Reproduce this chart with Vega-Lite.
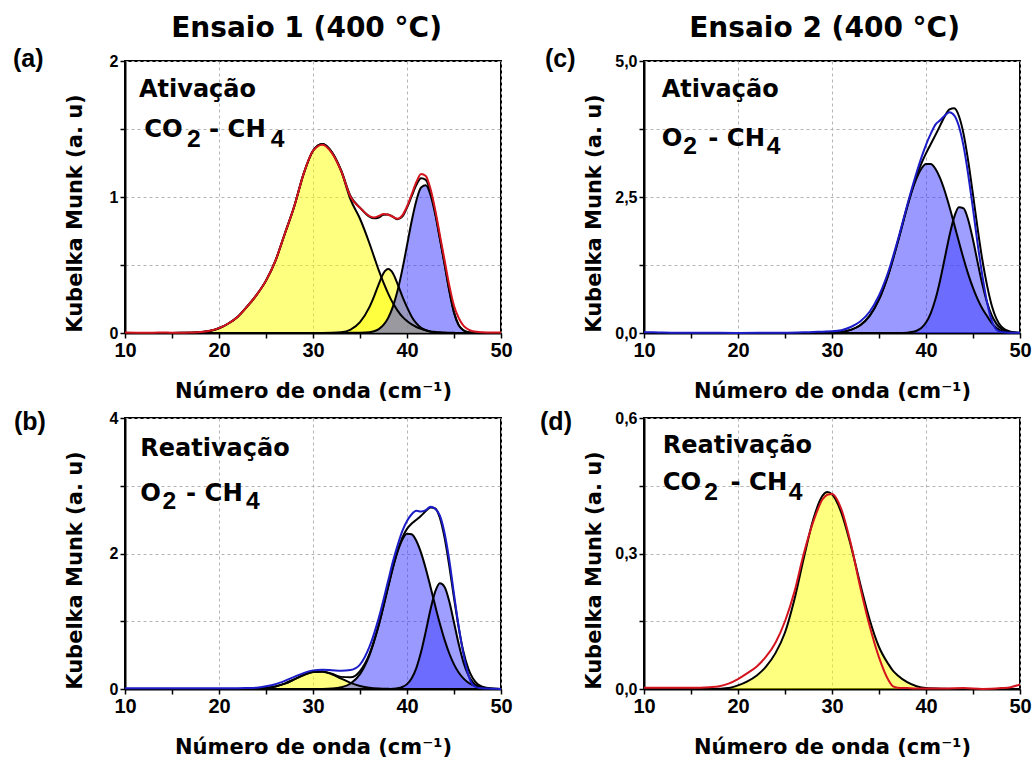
{
"$schema": "https://vega.github.io/schema/vega-lite/v6.json",
"background": "white",
"padding": {"left": 11, "top": 14, "right": 4, "bottom": 5},
"autosize": {"type": "pad"},
"config": {
 "font": "DejaVu Sans",
 "view": {"stroke": "#000000", "strokeWidth": 2},
 "axis": {"domainColor": "#000000", "domainWidth": 2, "tickColor": "#000000", "tickWidth": 1.5, "tickSize": 5, "grid": true, "gridColor": "#b4b4b4", "gridDash": [3, 3], "gridWidth": 1, "labelFont": "Liberation Sans", "labelFontWeight": "bold", "labelColor": "#000000", "titleFont": "DejaVu Sans", "titleFontWeight": "bold", "titleFontSize": 21, "titleColor": "#000000", "labelFlush": false, "labelOverlap": false},
 "axisX": {"labelFontSize": 20, "labelPadding": 2, "titleBaseline": "alphabetic", "titleY": 64},
 "axisY": {"labelFontSize": 16, "labelPadding": 2, "titleX": -44, "titleY": 152, "titleBaseline": "alphabetic"}
},
"datasets": {
 "a": [
  {"x":10,"y1":0,"y2":0,"b":0,"fit":0,"red":0.003},
  {"x":12,"y1":0,"y2":0,"b":0,"fit":0,"red":0.002},
  {"x":14,"y1":0.0005,"y2":0,"b":0,"fit":0.0005,"red":0.003},
  {"x":16,"y1":0.001,"y2":0,"b":0,"fit":0.001,"red":0.002},
  {"x":17,"y1":0.002,"y2":0,"b":0,"fit":0.002,"red":0.004},
  {"x":18,"y1":0.006,"y2":0,"b":0,"fit":0.006,"red":0.007},
  {"x":19,"y1":0.015,"y2":0,"b":0,"fit":0.015,"red":0.016},
  {"x":20,"y1":0.035,"y2":0,"b":0,"fit":0.035,"red":0.036},
  {"x":21,"y1":0.07,"y2":0,"b":0,"fit":0.07,"red":0.07},
  {"x":22,"y1":0.12,"y2":0,"b":0,"fit":0.12,"red":0.12},
  {"x":23,"y1":0.195,"y2":0,"b":0,"fit":0.195,"red":0.195},
  {"x":24,"y1":0.28,"y2":0,"b":0,"fit":0.28,"red":0.28},
  {"x":25,"y1":0.385,"y2":0,"b":0,"fit":0.385,"red":0.385},
  {"x":26,"y1":0.53,"y2":0,"b":0,"fit":0.53,"red":0.53},
  {"x":27,"y1":0.73,"y2":0,"b":0,"fit":0.73,"red":0.73},
  {"x":28,"y1":0.93,"y2":0,"b":0,"fit":0.93,"red":0.93},
  {"x":29,"y1":1.17,"y2":0,"b":0,"fit":1.17,"red":1.17},
  {"x":30,"y1":1.34,"y2":0,"b":0,"fit":1.34,"red":1.34},
  {"x":31,"y1":1.39,"y2":0,"b":0,"fit":1.39,"red":1.385},
  {"x":32,"y1":1.33,"y2":0.001,"b":0,"fit":1.331,"red":1.325},
  {"x":33,"y1":1.19,"y2":0.005,"b":0,"fit":1.195,"red":1.19},
  {"x":34,"y1":0.98,"y2":0.025,"b":0.001,"fit":1.006,"red":1.0},
  {"x":35,"y1":0.84,"y2":0.08,"b":0.002,"fit":0.922,"red":0.92},
  {"x":36,"y1":0.66,"y2":0.19,"b":0.006,"fit":0.856,"red":0.86},
  {"x":36.5,"y1":0.56,"y2":0.27,"b":0.013,"fit":0.843,"red":0.85},
  {"x":37,"y1":0.46,"y2":0.36,"b":0.029,"fit":0.849,"red":0.86},
  {"x":37.5,"y1":0.37,"y2":0.44,"b":0.059,"fit":0.869,"red":0.875},
  {"x":38,"y1":0.29,"y2":0.47,"b":0.111,"fit":0.871,"red":0.87},
  {"x":38.5,"y1":0.22,"y2":0.44,"b":0.194,"fit":0.854,"red":0.855},
  {"x":39,"y1":0.165,"y2":0.36,"b":0.312,"fit":0.837,"red":0.84},
  {"x":39.5,"y1":0.12,"y2":0.27,"b":0.466,"fit":0.856,"red":0.865},
  {"x":40,"y1":0.088,"y2":0.19,"b":0.644,"fit":0.922,"red":0.93},
  {"x":40.5,"y1":0.063,"y2":0.12,"b":0.824,"fit":1.007,"red":1.02},
  {"x":41,"y1":0.044,"y2":0.07,"b":0.975,"fit":1.089,"red":1.11},
  {"x":41.5,"y1":0.03,"y2":0.038,"b":1.07,"fit":1.138,"red":1.17},
  {"x":42,"y1":0.02,"y2":0.02,"b":1.086,"fit":1.126,"red":1.155},
  {"x":42.5,"y1":0.012,"y2":0.009,"b":1.016,"fit":1.037,"red":1.06},
  {"x":43,"y1":0.008,"y2":0.004,"b":0.875,"fit":0.887,"red":0.905},
  {"x":43.5,"y1":0.005,"y2":0.001,"b":0.692,"fit":0.698,"red":0.72},
  {"x":44,"y1":0.003,"y2":0,"b":0.505,"fit":0.508,"red":0.535},
  {"x":44.5,"y1":0.002,"y2":0,"b":0.311,"fit":0.313,"red":0.35},
  {"x":45,"y1":0.001,"y2":0,"b":0.15,"fit":0.151,"red":0.2},
  {"x":45.5,"y1":0,"y2":0,"b":0.058,"fit":0.058,"red":0.11},
  {"x":46,"y1":0,"y2":0,"b":0.02,"fit":0.02,"red":0.055},
  {"x":46.5,"y1":0,"y2":0,"b":0.006,"fit":0.006,"red":0.027},
  {"x":47,"y1":0,"y2":0,"b":0.002,"fit":0.002,"red":0.013},
  {"x":48,"y1":0,"y2":0,"b":0,"fit":0,"red":0.006},
  {"x":49,"y1":0,"y2":0,"b":0,"fit":0,"red":0.004},
  {"x":50,"y1":0,"y2":0,"b":0,"fit":0,"red":0.004}
 ],
 "c": [
  {"x":10,"p1":0,"p2":0,"fit":0,"blu":0.012},
  {"x":11,"p1":0,"p2":0,"fit":0,"blu":0.015},
  {"x":12,"p1":0,"p2":0,"fit":0,"blu":0.008},
  {"x":14,"p1":0,"p2":0,"fit":0,"blu":0.004},
  {"x":16,"p1":0,"p2":0,"fit":0,"blu":0.003},
  {"x":20,"p1":0,"p2":0,"fit":0,"blu":0.002},
  {"x":25,"p1":0,"p2":0,"fit":0,"blu":0.004},
  {"x":28,"p1":0.0005,"p2":0,"fit":0.0005,"blu":0.02},
  {"x":29,"p1":0.002,"p2":0,"fit":0.002,"blu":0.025},
  {"x":30,"p1":0.0065,"p2":0,"fit":0.0065,"blu":0.03},
  {"x":31,"p1":0.02,"p2":0,"fit":0.02,"blu":0.05},
  {"x":32,"p1":0.057,"p2":0,"fit":0.057,"blu":0.11},
  {"x":33,"p1":0.142,"p2":0,"fit":0.142,"blu":0.21},
  {"x":34,"p1":0.314,"p2":0,"fit":0.314,"blu":0.39},
  {"x":35,"p1":0.617,"p2":0,"fit":0.617,"blu":0.69},
  {"x":36,"p1":1.078,"p2":0,"fit":1.078,"blu":1.13},
  {"x":37,"p1":1.676,"p2":0,"fit":1.676,"blu":1.71},
  {"x":38,"p1":2.317,"p2":0.006,"fit":2.323,"blu":2.35},
  {"x":38.5,"p1":2.606,"p2":0.017,"fit":2.623,"blu":2.66},
  {"x":39,"p1":2.846,"p2":0.042,"fit":2.888,"blu":2.95},
  {"x":39.5,"p1":3.019,"p2":0.094,"fit":3.113,"blu":3.22},
  {"x":40,"p1":3.108,"p2":0.193,"fit":3.301,"blu":3.46},
  {"x":40.5,"p1":3.108,"p2":0.362,"fit":3.47,"blu":3.66},
  {"x":41,"p1":3.019,"p2":0.619,"fit":3.638,"blu":3.83},
  {"x":41.5,"p1":2.846,"p2":0.966,"fit":3.812,"blu":3.91},
  {"x":42,"p1":2.606,"p2":1.378,"fit":3.984,"blu":4.0},
  {"x":42.5,"p1":2.317,"p2":1.793,"fit":4.11,"blu":4.06},
  {"x":43,"p1":1.999,"p2":2.131,"fit":4.13,"blu":4.0},
  {"x":43.5,"p1":1.676,"p2":2.313,"fit":3.989,"blu":3.8},
  {"x":44,"p1":1.364,"p2":2.292,"fit":3.656,"blu":3.43},
  {"x":44.5,"p1":1.078,"p2":2.074,"fit":3.152,"blu":2.9},
  {"x":45,"p1":0.828,"p2":1.714,"fit":2.542,"blu":2.28},
  {"x":45.5,"p1":0.617,"p2":1.293,"fit":1.91,"blu":1.63},
  {"x":46,"p1":0.446,"p2":0.891,"fit":1.337,"blu":1.05},
  {"x":46.5,"p1":0.31,"p2":0.56,"fit":0.87,"blu":0.56},
  {"x":47,"p1":0.18,"p2":0.322,"fit":0.502,"blu":0.22},
  {"x":47.5,"p1":0.09,"p2":0.169,"fit":0.259,"blu":0.06},
  {"x":48,"p1":0.04,"p2":0.081,"fit":0.121,"blu":0.02},
  {"x":49,"p1":0.01,"p2":0.014,"fit":0.024,"blu":0.005},
  {"x":50,"p1":0,"p2":0.001,"fit":0.001,"blu":0.003}
 ],
 "b": [
  {"x":10,"q3":0,"q1":0,"q2":0,"fit":0,"blu":0.01},
  {"x":12,"q3":0,"q1":0,"q2":0,"fit":0,"blu":0.01},
  {"x":14,"q3":0,"q1":0,"q2":0,"fit":0,"blu":0.01},
  {"x":16,"q3":0,"q1":0,"q2":0,"fit":0,"blu":0.01},
  {"x":18,"q3":0,"q1":0,"q2":0,"fit":0,"blu":0.01},
  {"x":20,"q3":0,"q1":0,"q2":0,"fit":0,"blu":0.01},
  {"x":22,"q3":0.0003,"q1":0,"q2":0,"fit":0.0003,"blu":0.012},
  {"x":23,"q3":0.0014,"q1":0,"q2":0,"fit":0.0014,"blu":0.015},
  {"x":24,"q3":0.005,"q1":0,"q2":0,"fit":0.005,"blu":0.02},
  {"x":25,"q3":0.015,"q1":0,"q2":0,"fit":0.015,"blu":0.04},
  {"x":26,"q3":0.038,"q1":0,"q2":0,"fit":0.038,"blu":0.07},
  {"x":27,"q3":0.08,"q1":0,"q2":0,"fit":0.08,"blu":0.12},
  {"x":28,"q3":0.141,"q1":0,"q2":0,"fit":0.141,"blu":0.18},
  {"x":29,"q3":0.206,"q1":0,"q2":0,"fit":0.206,"blu":0.235},
  {"x":30,"q3":0.252,"q1":0.0003,"q2":0,"fit":0.252,"blu":0.275},
  {"x":31,"q3":0.256,"q1":0.0015,"q2":0,"fit":0.258,"blu":0.285},
  {"x":32,"q3":0.218,"q1":0.0066,"q2":0,"fit":0.225,"blu":0.278},
  {"x":33,"q3":0.154,"q1":0.025,"q2":0,"fit":0.179,"blu":0.268},
  {"x":34,"q3":0.091,"q1":0.081,"q2":0,"fit":0.172,"blu":0.28},
  {"x":35,"q3":0.045,"q1":0.219,"q2":0,"fit":0.264,"blu":0.36},
  {"x":36,"q3":0.018,"q1":0.496,"q2":0,"fit":0.514,"blu":0.62},
  {"x":37,"q3":0.006,"q1":0.944,"q2":0,"fit":0.95,"blu":1.05},
  {"x":38,"q3":0.002,"q1":1.51,"q2":0,"fit":1.512,"blu":1.6},
  {"x":38.5,"q3":0.001,"q1":1.789,"q2":0.003,"fit":1.793,"blu":1.88},
  {"x":39,"q3":0,"q1":2.029,"q2":0.01,"fit":2.039,"blu":2.12},
  {"x":39.5,"q3":0,"q1":2.204,"q2":0.029,"fit":2.233,"blu":2.33},
  {"x":40,"q3":0,"q1":2.292,"q2":0.072,"fit":2.364,"blu":2.48},
  {"x":40.5,"q3":0,"q1":2.283,"q2":0.159,"fit":2.442,"blu":2.58},
  {"x":41,"q3":0,"q1":2.185,"q2":0.313,"fit":2.498,"blu":2.63},
  {"x":41.5,"q3":0,"q1":2.009,"q2":0.548,"fit":2.557,"blu":2.62},
  {"x":42,"q3":0,"q1":1.775,"q2":0.851,"fit":2.626,"blu":2.64},
  {"x":42.5,"q3":0,"q1":1.506,"q2":1.173,"fit":2.679,"blu":2.69},
  {"x":43,"q3":0,"q1":1.228,"q2":1.436,"fit":2.664,"blu":2.66},
  {"x":43.5,"q3":0,"q1":0.963,"q2":1.561,"fit":2.524,"blu":2.56},
  {"x":44,"q3":0,"q1":0.725,"q2":1.506,"fit":2.231,"blu":2.3},
  {"x":44.5,"q3":0,"q1":0.524,"q2":1.291,"fit":1.815,"blu":1.9},
  {"x":45,"q3":0,"q1":0.364,"q2":0.981,"fit":1.345,"blu":1.4},
  {"x":45.5,"q3":0,"q1":0.243,"q2":0.663,"fit":0.906,"blu":0.92},
  {"x":46,"q3":0,"q1":0.156,"q2":0.397,"fit":0.553,"blu":0.52},
  {"x":46.5,"q3":0,"q1":0.096,"q2":0.212,"fit":0.308,"blu":0.22},
  {"x":47,"q3":0,"q1":0.057,"q2":0.1,"fit":0.157,"blu":0.06},
  {"x":47.5,"q3":0,"q1":0.032,"q2":0.042,"fit":0.074,"blu":0.02},
  {"x":48,"q3":0,"q1":0.018,"q2":0.016,"fit":0.034,"blu":0.01},
  {"x":49,"q3":0,"q1":0.005,"q2":0.002,"fit":0.007,"blu":0.005},
  {"x":50,"q3":0,"q1":0.001,"q2":0,"fit":0.001,"blu":0}
 ],
 "d": [
  {"x":10,"yel":0,"red":0.003},
  {"x":12,"yel":0,"red":0.003},
  {"x":14,"yel":0,"red":0.003},
  {"x":16,"yel":0,"red":0.003},
  {"x":17,"yel":0,"red":0.004},
  {"x":18,"yel":0.0005,"red":0.006},
  {"x":19,"yel":0.002,"red":0.012},
  {"x":20,"yel":0.008,"red":0.022},
  {"x":21,"yel":0.017,"red":0.035},
  {"x":22,"yel":0.03,"red":0.05},
  {"x":23,"yel":0.05,"red":0.072},
  {"x":24,"yel":0.08,"red":0.103},
  {"x":25,"yel":0.125,"red":0.15},
  {"x":26,"yel":0.198,"red":0.215},
  {"x":27,"yel":0.29,"red":0.3},
  {"x":28,"yel":0.375,"red":0.37},
  {"x":29,"yel":0.428,"red":0.42},
  {"x":29.5,"yel":0.436,"red":0.43},
  {"x":30,"yel":0.431,"red":0.432},
  {"x":31,"yel":0.39,"red":0.398},
  {"x":32,"yel":0.318,"red":0.322},
  {"x":33,"yel":0.233,"red":0.226},
  {"x":34,"yel":0.154,"red":0.14},
  {"x":35,"yel":0.093,"red":0.07},
  {"x":36,"yel":0.055,"red":0.02},
  {"x":36.5,"yel":0.04,"red":0.006},
  {"x":37,"yel":0.03,"red":0.003},
  {"x":38,"yel":0.015,"red":0.002},
  {"x":39,"yel":0.006,"red":0.001},
  {"x":40,"yel":0.002,"red":0.001},
  {"x":42,"yel":0.0005,"red":0.001},
  {"x":44,"yel":0,"red":0.002},
  {"x":46,"yel":0,"red":0.0},
  {"x":48,"yel":0,"red":0.002},
  {"x":49,"yel":0,"red":0.004},
  {"x":50,"yel":0,"red":0.01}
 ],
 "ta": [
  {"x":-1.915,"y":1.956,"t":"(a)","k":"p"},
  {"x":11.49,"y":1.737,"t":"Ativação","k":"h"},
  {"x":12.05,"y":1.441,"t":"CO","k":"m"},
  {"x":18.94,"y":1.441,"t":"- CH","k":"m"},
  {"x":16.6,"y":1.368,"t":"2","k":"s"},
  {"x":25.5,"y":1.368,"t":"4","k":"s"}
 ],
 "tc": [
  {"x":-0.53,"y":4.895,"t":"(c)","k":"p"},
  {"x":11.88,"y":4.344,"t":"Ativação","k":"h"},
  {"x":11.88,"y":3.438,"t":"O","k":"m"},
  {"x":16.84,"y":3.438,"t":"- CH","k":"m"},
  {"x":14.18,"y":3.29,"t":"2","k":"s"},
  {"x":23.05,"y":3.29,"t":"4","k":"s"}
 ],
 "tb": [
  {"x":-1.81,"y":3.823,"t":"(b)","k":"p"},
  {"x":11.63,"y":3.435,"t":"Reativação","k":"h"},
  {"x":11.63,"y":2.77,"t":"O","k":"m"},
  {"x":16.49,"y":2.77,"t":"- CH","k":"m"},
  {"x":14.0,"y":2.657,"t":"2","k":"s"},
  {"x":22.87,"y":2.657,"t":"4","k":"s"}
 ],
 "td": [
  {"x":-1.06,"y":0.574,"t":"(d)","k":"p"},
  {"x":11.99,"y":0.5225,"t":"Reativação","k":"h"},
  {"x":11.99,"y":0.4413,"t":"CO","k":"m"},
  {"x":19.2,"y":0.4413,"t":"- CH","k":"m"},
  {"x":16.4,"y":0.419,"t":"2","k":"s"},
  {"x":25.4,"y":0.419,"t":"4","k":"s"}
 ]
},
"spacing": 25,
"hconcat": [
 {
  "title": {"text": "Ensaio 1 (400 °C)", "font": "DejaVu Sans", "fontSize": 28, "fontWeight": "bold", "anchor": "middle", "baseline": "alphabetic", "offset": -19, "dx": 44, "color": "#000000"},
  "spacing": 6,
  "vconcat": [
   {
    "width": 376, "height": 272,
    "data": {"name": "a"},
    "encoding": {"x": {"field": "x", "type": "quantitative", "scale": {"domain": [10, 50], "nice": false, "zero": false}, "axis": {"values": [10,15,20,25,30,35,40,45,50], "labelExpr": "datum.value % 10 === 0 ? datum.label : ''", "gridOpacity": {"condition": {"test": "datum.value % 10 === 0", "value": 1}, "value": 0}}, "title": "Número de onda (cm⁻¹)"}},
    "layer": [
     {"transform": [{"fold": ["y1", "y2", "b"], "as": ["k", "v"]}],
      "mark": {"type": "area", "interpolate": "monotone"},
      "encoding": {"y": {"field": "v", "type": "quantitative", "stack": null, "scale": {"domain": [0, 2], "nice": false}, "title": "Kubelka Munk (a. u)", "axis": {"values": [0, 0.5, 1, 1.5, 2], "labelExpr": "datum.value % 1 === 0 ? format(datum.value, 'd') : ''"}},
       "fill": {"field": "k", "type": "nominal", "scale": {"domain": ["y1","y2","b","q3","q1","q2","p1","p2","yel"], "range": ["#ffff00","#ffff00","#3333ff","#ffff00","#3333ff","#4040ff","#3333ff","#4040ff","#ffff00"]}, "legend": null},
       "fillOpacity": {"field": "k", "type": "nominal", "scale": {"domain": ["y1","y2","b","q3","q1","q2","p1","p2","yel"], "range": [0.5,0.5,0.5,0.5,0.5,0.85,0.5,0.85,0.5]}, "legend": null}}},
     {"transform": [{"fold": ["y1", "y2", "b", "fit", "red"], "as": ["k", "v"]}],
      "mark": {"type": "line", "interpolate": "monotone", "strokeWidth": 2},
      "encoding": {"y": {"field": "v", "type": "quantitative", "scale": {"domain": [0, 2], "nice": false}, "title": "Kubelka Munk (a. u)"},
       "stroke": {"field": "k", "type": "nominal", "scale": {"domain": ["y1","y2","b","q3","q1","q2","p1","p2","yel","fit","red","blu"], "range": ["#000000","#000000","#000000","#000000","#000000","#000000","#000000","#000000","#000000","#000000","#d4141e","#1c1cc8"]}, "legend": null}}},
     {"data": {"name": "ta"}, "transform": [{"filter": "datum.k === 'h' || datum.k === 'm'"}],
      "mark": {"type": "text", "font": "DejaVu Sans", "fontWeight": "bold", "align": "left", "baseline": "alphabetic", "color": "#000000"},
      "encoding": {"y": {"field": "y", "type": "quantitative", "scale": {"domain": [0, 2], "nice": false}, "title": "Kubelka Munk (a. u)"}, "text": {"field": "t"},
       "size": {"field": "k", "type": "nominal", "scale": {"domain": ["h", "m", "s", "p"], "range": [24, 25, 22, 32]}, "legend": null}}},
     {"data": {"name": "ta"}, "transform": [{"filter": "datum.k === 's' || datum.k === 'p'"}],
      "mark": {"type": "text", "font": "Liberation Sans", "fontWeight": "bold", "align": "left", "baseline": "alphabetic", "color": "#000000"},
      "encoding": {"y": {"field": "y", "type": "quantitative", "scale": {"domain": [0, 2], "nice": false}, "title": "Kubelka Munk (a. u)"}, "text": {"field": "t"},
       "size": {"field": "k", "type": "nominal", "scale": {"domain": ["h", "m", "s", "p"], "range": [24, 25, 22, 32]}, "legend": null}}}
    ]
   },
   {
    "width": 376, "height": 271,
    "data": {"name": "b"},
    "encoding": {"x": {"field": "x", "type": "quantitative", "scale": {"domain": [10, 50], "nice": false, "zero": false}, "axis": {"values": [10,15,20,25,30,35,40,45,50], "labelExpr": "datum.value % 10 === 0 ? datum.label : ''", "gridOpacity": {"condition": {"test": "datum.value % 10 === 0", "value": 1}, "value": 0}}, "title": "Número de onda (cm⁻¹)"}},
    "layer": [
     {"transform": [{"fold": ["q3", "q1", "q2"], "as": ["k", "v"]}],
      "mark": {"type": "area", "interpolate": "monotone"},
      "encoding": {"y": {"field": "v", "type": "quantitative", "stack": null, "scale": {"domain": [0, 4], "nice": false}, "title": "Kubelka Munk (a. u)", "axis": {"values": [0, 1, 2, 3, 4], "labelExpr": "datum.value % 2 === 0 ? format(datum.value, 'd') : ''"}},
       "fill": {"field": "k", "type": "nominal", "scale": {"domain": ["y1","y2","b","q3","q1","q2","p1","p2","yel"], "range": ["#ffff00","#ffff00","#3333ff","#ffff00","#3333ff","#4040ff","#3333ff","#4040ff","#ffff00"]}, "legend": null},
       "fillOpacity": {"field": "k", "type": "nominal", "scale": {"domain": ["y1","y2","b","q3","q1","q2","p1","p2","yel"], "range": [0.5,0.5,0.5,0.5,0.5,0.85,0.5,0.85,0.5]}, "legend": null}}},
     {"transform": [{"fold": ["q3", "q1", "q2", "fit", "blu"], "as": ["k", "v"]}],
      "mark": {"type": "line", "interpolate": "monotone", "strokeWidth": 2},
      "encoding": {"y": {"field": "v", "type": "quantitative", "scale": {"domain": [0, 4], "nice": false}, "title": "Kubelka Munk (a. u)"},
       "stroke": {"field": "k", "type": "nominal", "scale": {"domain": ["y1","y2","b","q3","q1","q2","p1","p2","yel","fit","red","blu"], "range": ["#000000","#000000","#000000","#000000","#000000","#000000","#000000","#000000","#000000","#000000","#d4141e","#1c1cc8"]}, "legend": null}}},
     {"data": {"name": "tb"}, "transform": [{"filter": "datum.k === 'h' || datum.k === 'm'"}],
      "mark": {"type": "text", "font": "DejaVu Sans", "fontWeight": "bold", "align": "left", "baseline": "alphabetic", "color": "#000000"},
      "encoding": {"y": {"field": "y", "type": "quantitative", "scale": {"domain": [0, 4], "nice": false}, "title": "Kubelka Munk (a. u)"}, "text": {"field": "t"},
       "size": {"field": "k", "type": "nominal", "scale": {"domain": ["h", "m", "s", "p"], "range": [24, 25, 22, 32]}, "legend": null}}},
     {"data": {"name": "tb"}, "transform": [{"filter": "datum.k === 's' || datum.k === 'p'"}],
      "mark": {"type": "text", "font": "Liberation Sans", "fontWeight": "bold", "align": "left", "baseline": "alphabetic", "color": "#000000"},
      "encoding": {"y": {"field": "y", "type": "quantitative", "scale": {"domain": [0, 4], "nice": false}, "title": "Kubelka Munk (a. u)"}, "text": {"field": "t"},
       "size": {"field": "k", "type": "nominal", "scale": {"domain": ["h", "m", "s", "p"], "range": [24, 25, 22, 32]}, "legend": null}}}
    ]
   }
  ]
 },
 {
  "title": {"text": "Ensaio 2 (400 °C)", "font": "DejaVu Sans", "fontSize": 28, "fontWeight": "bold", "anchor": "middle", "baseline": "alphabetic", "offset": -19, "dx": 39, "color": "#000000"},
  "spacing": 6,
  "vconcat": [
   {
    "width": 376, "height": 272,
    "data": {"name": "c"},
    "encoding": {"x": {"field": "x", "type": "quantitative", "scale": {"domain": [10, 50], "nice": false, "zero": false}, "axis": {"values": [10,15,20,25,30,35,40,45,50], "labelExpr": "datum.value % 10 === 0 ? datum.label : ''", "gridOpacity": {"condition": {"test": "datum.value % 10 === 0", "value": 1}, "value": 0}}, "title": "Número de onda (cm⁻¹)"}},
    "layer": [
     {"transform": [{"fold": ["p1", "p2"], "as": ["k", "v"]}],
      "mark": {"type": "area", "interpolate": "monotone"},
      "encoding": {"y": {"field": "v", "type": "quantitative", "stack": null, "scale": {"domain": [0, 5], "nice": false}, "title": "Kubelka Munk (a. u)", "axis": {"values": [0, 1.25, 2.5, 3.75, 5], "labelExpr": "datum.value % 2.5 === 0 ? replace(format(datum.value, '.1f'), '.', ',') : ''"}},
       "fill": {"field": "k", "type": "nominal", "scale": {"domain": ["y1","y2","b","q3","q1","q2","p1","p2","yel"], "range": ["#ffff00","#ffff00","#3333ff","#ffff00","#3333ff","#4040ff","#3333ff","#4040ff","#ffff00"]}, "legend": null},
       "fillOpacity": {"field": "k", "type": "nominal", "scale": {"domain": ["y1","y2","b","q3","q1","q2","p1","p2","yel"], "range": [0.5,0.5,0.5,0.5,0.5,0.85,0.5,0.85,0.5]}, "legend": null}}},
     {"transform": [{"fold": ["p1", "p2", "fit", "blu"], "as": ["k", "v"]}],
      "mark": {"type": "line", "interpolate": "monotone", "strokeWidth": 2},
      "encoding": {"y": {"field": "v", "type": "quantitative", "scale": {"domain": [0, 5], "nice": false}, "title": "Kubelka Munk (a. u)"},
       "stroke": {"field": "k", "type": "nominal", "scale": {"domain": ["y1","y2","b","q3","q1","q2","p1","p2","yel","fit","red","blu"], "range": ["#000000","#000000","#000000","#000000","#000000","#000000","#000000","#000000","#000000","#000000","#d4141e","#1c1cc8"]}, "legend": null}}},
     {"data": {"name": "tc"}, "transform": [{"filter": "datum.k === 'h' || datum.k === 'm'"}],
      "mark": {"type": "text", "font": "DejaVu Sans", "fontWeight": "bold", "align": "left", "baseline": "alphabetic", "color": "#000000"},
      "encoding": {"y": {"field": "y", "type": "quantitative", "scale": {"domain": [0, 5], "nice": false}, "title": "Kubelka Munk (a. u)"}, "text": {"field": "t"},
       "size": {"field": "k", "type": "nominal", "scale": {"domain": ["h", "m", "s", "p"], "range": [24, 25, 22, 32]}, "legend": null}}},
     {"data": {"name": "tc"}, "transform": [{"filter": "datum.k === 's' || datum.k === 'p'"}],
      "mark": {"type": "text", "font": "Liberation Sans", "fontWeight": "bold", "align": "left", "baseline": "alphabetic", "color": "#000000"},
      "encoding": {"y": {"field": "y", "type": "quantitative", "scale": {"domain": [0, 5], "nice": false}, "title": "Kubelka Munk (a. u)"}, "text": {"field": "t"},
       "size": {"field": "k", "type": "nominal", "scale": {"domain": ["h", "m", "s", "p"], "range": [24, 25, 22, 32]}, "legend": null}}}
    ]
   },
   {
    "width": 376, "height": 271,
    "data": {"name": "d"},
    "encoding": {"x": {"field": "x", "type": "quantitative", "scale": {"domain": [10, 50], "nice": false, "zero": false}, "axis": {"values": [10,15,20,25,30,35,40,45,50], "labelExpr": "datum.value % 10 === 0 ? datum.label : ''", "gridOpacity": {"condition": {"test": "datum.value % 10 === 0", "value": 1}, "value": 0}}, "title": "Número de onda (cm⁻¹)"}},
    "layer": [
     {"transform": [{"fold": ["yel"], "as": ["k", "v"]}],
      "mark": {"type": "area", "interpolate": "monotone"},
      "encoding": {"y": {"field": "v", "type": "quantitative", "stack": null, "scale": {"domain": [0, 0.6], "nice": false}, "title": "Kubelka Munk (a. u)", "axis": {"values": [0, 0.15, 0.3, 0.45, 0.6], "labelExpr": "datum.value === 0 || datum.value === 0.3 || datum.value === 0.6 ? replace(format(datum.value, '.1f'), '.', ',') : ''"}},
       "fill": {"field": "k", "type": "nominal", "scale": {"domain": ["y1","y2","b","q3","q1","q2","p1","p2","yel"], "range": ["#ffff00","#ffff00","#3333ff","#ffff00","#3333ff","#4040ff","#3333ff","#4040ff","#ffff00"]}, "legend": null},
       "fillOpacity": {"field": "k", "type": "nominal", "scale": {"domain": ["y1","y2","b","q3","q1","q2","p1","p2","yel"], "range": [0.5,0.5,0.5,0.5,0.5,0.85,0.5,0.85,0.5]}, "legend": null}}},
     {"transform": [{"fold": ["yel", "red"], "as": ["k", "v"]}],
      "mark": {"type": "line", "interpolate": "monotone", "strokeWidth": 2},
      "encoding": {"y": {"field": "v", "type": "quantitative", "scale": {"domain": [0, 0.6], "nice": false}, "title": "Kubelka Munk (a. u)"},
       "stroke": {"field": "k", "type": "nominal", "scale": {"domain": ["y1","y2","b","q3","q1","q2","p1","p2","yel","fit","red","blu"], "range": ["#000000","#000000","#000000","#000000","#000000","#000000","#000000","#000000","#000000","#000000","#d4141e","#1c1cc8"]}, "legend": null}}},
     {"data": {"name": "td"}, "transform": [{"filter": "datum.k === 'h' || datum.k === 'm'"}],
      "mark": {"type": "text", "font": "DejaVu Sans", "fontWeight": "bold", "align": "left", "baseline": "alphabetic", "color": "#000000"},
      "encoding": {"y": {"field": "y", "type": "quantitative", "scale": {"domain": [0, 0.6], "nice": false}, "title": "Kubelka Munk (a. u)"}, "text": {"field": "t"},
       "size": {"field": "k", "type": "nominal", "scale": {"domain": ["h", "m", "s", "p"], "range": [24, 25, 22, 32]}, "legend": null}}},
     {"data": {"name": "td"}, "transform": [{"filter": "datum.k === 's' || datum.k === 'p'"}],
      "mark": {"type": "text", "font": "Liberation Sans", "fontWeight": "bold", "align": "left", "baseline": "alphabetic", "color": "#000000"},
      "encoding": {"y": {"field": "y", "type": "quantitative", "scale": {"domain": [0, 0.6], "nice": false}, "title": "Kubelka Munk (a. u)"}, "text": {"field": "t"},
       "size": {"field": "k", "type": "nominal", "scale": {"domain": ["h", "m", "s", "p"], "range": [24, 25, 22, 32]}, "legend": null}}}
    ]
   }
  ]
 }
]
}
